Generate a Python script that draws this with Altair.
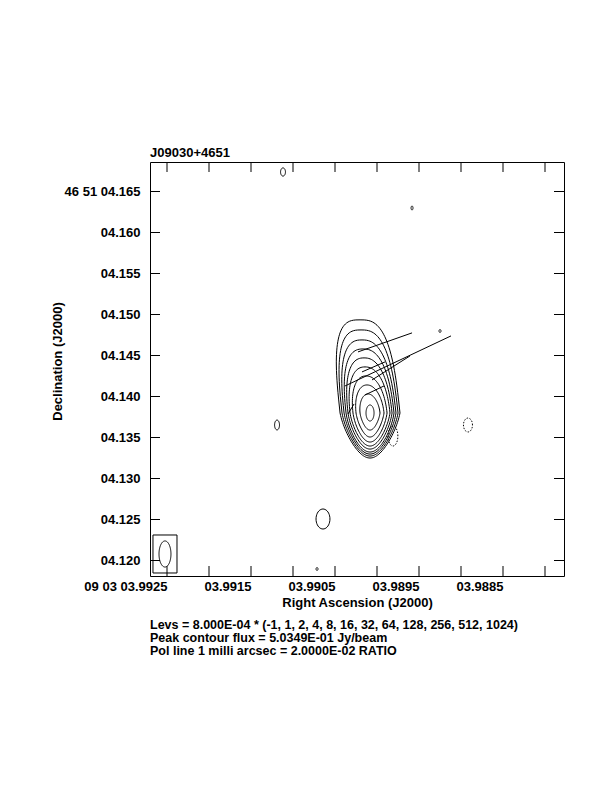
import numpy as np
import pandas as pd
import altair as alt

# ---------------- data ----------------
SOURCE = "J09030+4651"
RA_RANGE = [3.9927024, 3.9877738]          # seconds of RA (09h03m), left -> right
DEC_RANGE = [4.118110, 4.1685976]          # arcsec of Dec (+46d51m), bottom -> top
RA_TICKS = [3.9925, 3.9920, 3.9915, 3.9910, 3.9905, 3.9900, 3.9895, 3.9890, 3.9885, 3.9880]
DEC_TICKS = [4.120, 4.125, 4.130, 4.135, 4.140, 4.145, 4.150, 4.155, 4.160, 4.165]
DEC_DEG = 46 + 51 / 60 + 4.14 / 3600

# main source: nested contours around the core (sizes in mas)
CORE_RA = 3.990083
CORE_DEC = 4.137988
LEVELS = [1, 2, 4, 8, 16, 32, 64, 128, 256, 512]
HALF_W_UP = [3.66, 3.42, 3.17, 2.93, 2.69, 2.44, 2.08, 1.71, 1.22, 0.49]
HALF_W_DN = [2.55, 2.45, 2.33, 2.22, 2.02, 1.80, 1.58, 1.25, 0.92, 0.49]
EXT_UP = [11.36, 10.13, 8.91, 7.81, 6.72, 5.62, 4.52, 3.42, 2.32, 0.98]
EXT_DN = [5.49, 5.25, 5.01, 4.76, 4.40, 4.03, 3.54, 2.93, 2.08, 0.98]
LEAN = [-1.22, -1.10, -0.98, -0.85, -0.73, -0.61, -0.49, -0.37, -0.24, 0.0]
SQUARE = [3.0, 2.8, 2.6, 2.5, 2.4, 2.3, 2.2, 2.1, 2.0, 2.0]

# isolated small contours (centre RA s, Dec arcsec, semi-axes mas)
BLOB_RA = [3.991119, 3.989583, 3.989250, 3.991190, 3.990643, 3.990714]
BLOB_DEC = [4.167378, 4.162988, 4.147988, 4.136525, 4.125061, 4.118964]
BLOB_SX = [0.30, 0.12, 0.12, 0.30, 0.85, 0.12]
BLOB_SY = [0.50, 0.24, 0.18, 0.60, 1.22, 0.18]

# negative (-1) contours, dashed
NEG_RA = [3.989810, 3.988917]
NEG_DEC = [4.135183, 4.136525]
NEG_SX = [0.60, 0.55]
NEG_SY = [1.22, 0.85]

# restoring beam
BEAM_RA = 3.992524
BEAM_DEC = 4.120793
BEAM_SX = 0.73
BEAM_SY = 1.59
BOX_RA = [3.992667, 3.992381]
BOX_DEC = [4.118476, 4.123110]

# polarisation vectors, end points as offsets from core (mas)
VEC_X1 = [-3.05, -1.47, 0.24, -0.98, -0.61, -2.69]
VEC_Y1 = [3.30, 7.45, 4.03, 5.01, 2.20, -0.12]
VEC_X2 = [9.89, 5.13, 4.88, 1.83, 1.71, -1.95]
VEC_Y2 = [9.40, 9.77, 6.96, 6.23, 3.30, 1.10]

NOTES = [
    "Levs = 8.000E-04 * (-1, 1, 2, 4, 8, 16, 32, 64, 128, 256, 512, 1024)",
    "Peak contour flux =  5.0349E-01 Jy/beam",
    "Pol line 1 milli arcsec =  2.0000E-02 RATIO",
]

# ---------------- build tables ----------------
MAS_PER_RA_SEC = 15000.0 * np.cos(np.radians(DEC_DEG))


def outline(ra0, dec0, wu, wd, up, dn, lean, cid, sq=2.0, n=120):
    t = np.linspace(0, 2 * np.pi, n + 1)
    s = np.sin(t)
    c = np.cos(t)
    e = 2.0 / sq
    cu = np.sign(c) * np.abs(c) ** e
    su = np.abs(s) ** e
    dx = np.where(s >= 0, wu * cu + lean * su, (wu + (wd - wu) * (-s)) * c)
    dy = np.where(s >= 0, up * su, dn * s)
    return pd.DataFrame({
        "ra": ra0 - dx / MAS_PER_RA_SEC,
        "dec": dec0 + dy / 1000.0,
        "cid": cid,
        "ord": np.arange(n + 1),
    })


parts = []
for i, lv in enumerate(LEVELS):
    parts.append(outline(CORE_RA, CORE_DEC, HALF_W_UP[i], HALF_W_DN[i],
                         EXT_UP[i], EXT_DN[i], LEAN[i], f"core{lv}", SQUARE[i]))
for i in range(len(BLOB_RA)):
    parts.append(outline(BLOB_RA[i], BLOB_DEC[i], BLOB_SX[i], BLOB_SX[i],
                         BLOB_SY[i], BLOB_SY[i], 0.0, f"blob{i}", n=40))
parts.append(outline(BEAM_RA, BEAM_DEC, BEAM_SX, BEAM_SX, BEAM_SY, BEAM_SY, 0.0, "beam"))
pos = pd.concat(parts, ignore_index=True)

neg = pd.concat([outline(NEG_RA[i], NEG_DEC[i], NEG_SX[i], NEG_SX[i],
                         NEG_SY[i], NEG_SY[i], 0.0, f"neg{i}", n=40)
                 for i in range(len(NEG_RA))], ignore_index=True)

vec = pd.DataFrame({
    "ra": CORE_RA - np.array(VEC_X1) / MAS_PER_RA_SEC,
    "dec": CORE_DEC + np.array(VEC_Y1) / 1000.0,
    "ra2": CORE_RA - np.array(VEC_X2) / MAS_PER_RA_SEC,
    "dec2": CORE_DEC + np.array(VEC_Y2) / 1000.0,
})
box = pd.DataFrame({"ra": [BOX_RA[0]], "ra2": [BOX_RA[1]],
                    "dec": [BOX_DEC[0]], "dec2": [BOX_DEC[1]]})
rat = pd.DataFrame({"ra": RA_TICKS})
dect = pd.DataFrame({"dec": DEC_TICKS})

FONT = "Liberation Sans"
FS = 13
xs = alt.Scale(domain=RA_RANGE, nice=False, zero=False)
ys = alt.Scale(domain=DEC_RANGE, nice=False, zero=False)

x_label = ("(round(datum.value*10000) % 10 == 5) ? "
           "((round(datum.value*10000) == 39925 ? '09 03 ' : '') + '0' + format(datum.value, '.4f')) : ''")
y_label = ("(datum.value > 4.1645 ? '46 51 ' : '') + '0' + format(datum.value, '.3f')")

x_axis = alt.Axis(values=RA_TICKS, labelExpr=x_label, tickSize=0, domain=False, grid=False,
                  labelAlign="right", labelPadding=4, labelFlush=False, labelOverlap=False,
                  title="Right Ascension (J2000)", titleX=207, titleY=26,
                  titleBaseline="middle", titleAlign="center")
y_axis = alt.Axis(values=DEC_TICKS, labelExpr=y_label, tickSize=0, domain=False, grid=False,
                  labelPadding=10, labelFlush=False, labelOverlap=False,
                  title="Declination (J2000)", titleX=-93, titleY=199,
                  titleBaseline="middle", titleAlign="center", titleAngle=270)

X = alt.X("ra:Q", scale=xs, axis=x_axis, title="Right Ascension (J2000)")
Y = alt.Y("dec:Q", scale=ys, axis=y_axis, title="Declination (J2000)")

contours = alt.Chart(pos).mark_line(color="black", strokeWidth=1).encode(
    x=X, y=Y, detail="cid:N", order="ord:Q")
negc = alt.Chart(neg).mark_line(color="black", strokeWidth=1, strokeDash=[1.5, 1.5]).encode(
    x=X, y=Y, detail="cid:N", order="ord:Q")
vecs = alt.Chart(vec).mark_rule(color="black", strokeWidth=1).encode(
    x=X, x2="ra2:Q", y=Y, y2="dec2:Q")
beam_box = alt.Chart(box).mark_rect(fill=None, stroke="black", strokeWidth=1, fillOpacity=0).encode(
    x=X, x2="ra2:Q", y=Y, y2="dec2:Q")

tick_style = dict(color="black", thickness=1, size=20, clip=True, opacity=1)
xt_bot = alt.Chart(rat).mark_tick(orient="vertical", **tick_style).encode(x=X, y=alt.value(414))
xt_top = alt.Chart(rat).mark_tick(orient="vertical", **tick_style).encode(x=X, y=alt.value(0))
yt_left = alt.Chart(dect).mark_tick(orient="horizontal", **tick_style).encode(y=Y, x=alt.value(0))
yt_right = alt.Chart(dect).mark_tick(orient="horizontal", **tick_style).encode(y=Y, x=alt.value(414))

text_style = dict(font=FONT, fontWeight="bold", fontSize=FS, align="left",
                  baseline="alphabetic", color="black")
note_style = dict(text_style, fontSize=12.5)
title_txt = alt.Chart(pd.DataFrame({"t": [SOURCE]})).mark_text(**text_style).encode(
    text="t:N", x=alt.value(0), y=alt.value(-5))
note_layers = [
    alt.Chart(pd.DataFrame({"t": [line]})).mark_text(**note_style).encode(
        text="t:N", x=alt.value(0), y=alt.value(467 + 13 * k))
    for k, line in enumerate(NOTES)
]

chart = alt.layer(
    contours, negc, vecs, beam_box, xt_bot, xt_top, yt_left, yt_right, title_txt, *note_layers
).properties(
    width=414, height=414,
    autosize=alt.AutoSizeParams(type="none"),
    padding={"left": 142, "top": 154, "right": 40, "bottom": 200},
).configure_view(stroke="black", strokeWidth=1).configure_axis(
    labelFont=FONT, labelFontWeight="bold", labelFontSize=FS, labelColor="black",
    titleFont=FONT, titleFontWeight="bold", titleFontSize=FS, titleColor="black",
)

chart.save("out.html", embed_options={"renderer": "svg", "actions": False})
